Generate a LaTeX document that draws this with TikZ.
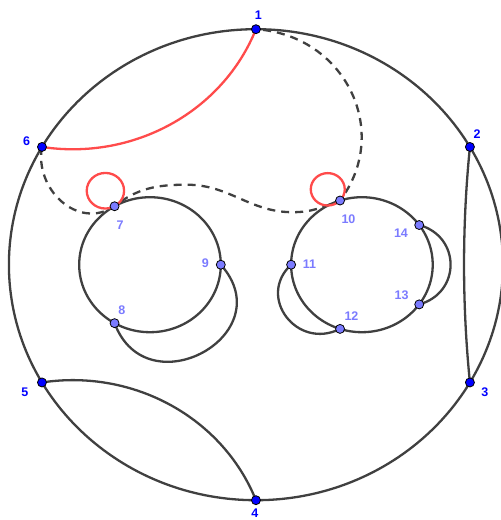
\documentclass[tikz,border=0pt]{standalone}
\usepackage{fontspec}
\setmainfont{Liberation Sans}
\usetikzlibrary{calc}
\definecolor{gLine}{HTML}{404040}
\definecolor{gRed}{HTML}{FF4B4B}
\definecolor{gBlue}{HTML}{0000FF}
\definecolor{gLight}{HTML}{7B7BFF}
\begin{document}
\begin{tikzpicture}[x=1pt, y=1pt, xscale=1.049,
  edge/.style={gLine, line width=2.3pt},
  dashedge/.style={edge, dash pattern=on 8pt off 6pt},
  redge/.style={gRed, line width=2.3pt},
  outdot/.style={circle, fill=gBlue, draw=black, line width=0.8pt, inner sep=0pt, minimum size=9pt},
  indot/.style={outdot, fill=gLight},
  outlab/.style={text=gBlue, font=\fontsize{12.5}{14}\selectfont\bfseries, inner sep=0pt},
  inlab/.style={outlab, text=gLight}]
  \useasboundingbox (-244.0,-255.3) rectangle (233.6,264.7);
  % points on the rim and on the two small circles
  \foreach \i/\a in {1/90, 2/30, 3/-30, 4/-90, 5/210, 6/150}
    \coordinate (v\i) at (\a:235.5);
  \coordinate (cl) at (-101,0);
  \coordinate (cr) at (101,0);
  \foreach \i/\a in {7/120, 8/240, 9/0}
    \coordinate (v\i) at ($(cl)+(\a:67.5)$);
  \foreach \i/\a in {10/108, 11/180, 12/252, 13/324, 14/36}
    \coordinate (v\i) at ($(cr)+(\a:67.5)$);
  \coordinate (crest) at (-66,80);
  \coordinate (dip) at (35,52.5);
  % circles
  \draw[edge] (0,0) circle[radius=235.5];
  \draw[edge] (cl) circle[radius=67.5];
  \draw[edge] (cr) circle[radius=67.5];
  % arcs
  \draw[redge] (v1) to[out=-111, in=-9, looseness=0.96] (v6);
  \draw[edge] (v4) to[out=111, in=9, looseness=0.96] (v5);
  \draw[edge] (v2) to[out=-95.5, in=95.5, looseness=0.85] (v3);
  \draw[edge] (v8) to[out=-70.4, in=-49.6, looseness=2.0] (v9);
  \draw[edge] (v11) to[out=224.2, in=207.8, looseness=1.49] (v12);
  \draw[edge] (v13) to[out=16, in=-16, looseness=1.34] (v14);
  \draw[dashedge] (v6) to[out=-100, in=215, looseness=1.2] (v7)
    to[out=40, in=180] (crest) to[out=0, in=180] (dip)
    to[out=0, in=202] (v10) to[out=54.4, in=-4, looseness=1.15] (v1);
  % loops
  \draw[redge] (v7) ++(119.4:17.8) circle[radius=17.8];
  \draw[redge] (v10) ++(136.3:16.2) circle[radius=16.2];
  % dots and labels
  \foreach \i in {1,...,6} \node[outdot] (p\i) at (v\i) {};
  \foreach \i in {7,...,14} \node[indot] (p\i) at (v\i) {};
  \foreach \i/\dx/\dy in {1/2.2/14.3, 2/6.7/12.4, 3/14.3/-10, 4/-1/-13, 5/-16.2/-9.7, 6/-14.6/5.3}
    \node[outlab] (l\i) at ($(p\i)+(\dx,\dy)$) {\i};
  \foreach \i/\dx/\dy in {7/5.4/-19, 8/7/12.6, 9/-14.6/1.3, 10/8/-19, 11/17.4/0.3, 12/10.9/13, 13/-16.8/9.3, 14/-17.4/-8.3}
    \node[inlab] (l\i) at ($(p\i)+(\dx,\dy)$) {\i};
\end{tikzpicture}
\end{document}
